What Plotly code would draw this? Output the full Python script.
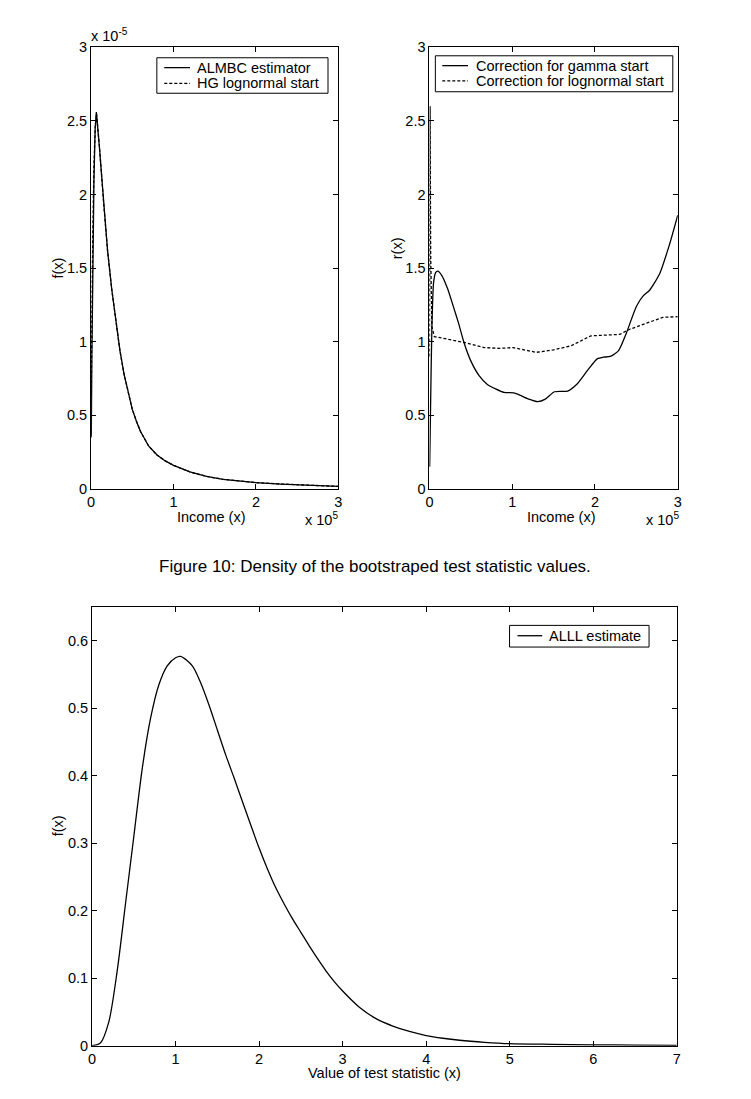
import plotly.graph_objects as go

# ---------------- data ----------------
# Top-left: income in units of 1e5, density in units of 1e-5
inc_almbc = [0.0, 0.003, 0.01, 0.02, 0.035, 0.05, 0.064, 0.1, 0.15, 0.2, 0.25, 0.3, 0.35, 0.4,
             0.45, 0.5, 0.55, 0.6, 0.7, 0.8, 0.9, 1.0, 1.2, 1.4, 1.6, 1.8, 2.0, 2.3, 2.6, 3.0]
f_almbc = [0.35, 0.37, 0.9, 1.5, 2.1, 2.45, 2.56, 2.33, 1.95, 1.62, 1.36, 1.13, 0.94, 0.78,
           0.65, 0.54, 0.46, 0.39, 0.29, 0.23, 0.19, 0.16, 0.115, 0.085, 0.065, 0.052, 0.043, 0.033, 0.025, 0.017]

inc_hg = [0.002, 0.01, 0.02, 0.035, 0.05, 0.066, 0.1, 0.15, 0.2, 0.25, 0.3, 0.35, 0.4,
          0.45, 0.5, 0.55, 0.6, 0.7, 0.8, 0.9, 1.0, 1.2, 1.4, 1.6, 1.8, 2.0, 2.3, 2.6, 3.0]
f_hg = [0.65, 1.2, 1.7, 2.2, 2.45, 2.55, 2.34, 1.96, 1.62, 1.36, 1.13, 0.94, 0.78,
        0.65, 0.54, 0.46, 0.39, 0.29, 0.23, 0.19, 0.16, 0.115, 0.085, 0.065, 0.052, 0.043, 0.033, 0.025, 0.017]

# Top-right: correction factors r(x)
inc_gamma = [0.003, 0.015, 0.03, 0.05, 0.075, 0.1, 0.15, 0.22, 0.3, 0.35, 0.42, 0.5, 0.6, 0.7,
             0.8, 0.9, 1.02, 1.1, 1.2, 1.31, 1.4, 1.51, 1.67, 1.79, 1.91, 2.03, 2.1, 2.185, 2.285,
             2.38, 2.5, 2.58, 2.66, 2.78, 2.9, 3.0]
r_gamma = [0.15, 0.6, 1.1, 1.4, 1.47, 1.48, 1.45, 1.36, 1.22, 1.13, 0.99, 0.87, 0.77, 0.71,
           0.68, 0.656, 0.652, 0.635, 0.61, 0.593, 0.61, 0.66, 0.665, 0.716, 0.805, 0.885, 0.895, 0.90, 0.94,
           1.06, 1.24, 1.31, 1.35, 1.46, 1.66, 1.86]

inc_logn = [0.0, 0.004, 0.008, 0.015, 0.03, 0.06, 0.2, 0.42, 0.66, 0.85, 1.01, 1.15, 1.29, 1.5,
            1.71, 1.95, 2.11, 2.3, 2.42, 2.62, 2.82, 3.0]
r_logn = [0.9, 2.0, 2.6, 1.6, 1.1, 1.035, 1.02, 0.995, 0.96, 0.955, 0.96, 0.945, 0.928, 0.945,
          0.972, 1.04, 1.045, 1.05, 1.085, 1.128, 1.166, 1.17]

# Bottom: ALLL estimate of the bootstrapped test statistic density
x_stat = [0.0, 0.1, 0.2, 0.3, 0.4, 0.5, 0.6, 0.7, 0.8, 0.9, 1.0, 1.06, 1.2, 1.3, 1.4, 1.5, 1.6,
          1.7, 1.8, 1.9, 2.0, 2.1, 2.2, 2.3, 2.4, 2.5, 2.6, 2.7, 2.8, 2.9, 3.0, 3.2, 3.4, 3.6, 3.8,
          4.0, 4.2, 4.4, 4.7, 5.0, 5.5, 6.0, 6.5, 7.0]
f_stat = [0.0, 0.004, 0.035, 0.11, 0.21, 0.31, 0.41, 0.485, 0.535, 0.563, 0.575, 0.577, 0.563, 0.538,
          0.505, 0.468, 0.431, 0.397, 0.362, 0.327, 0.293, 0.262, 0.234, 0.210, 0.188, 0.168, 0.148,
          0.129, 0.111, 0.095, 0.081, 0.057, 0.040, 0.029, 0.021, 0.015, 0.011, 0.008, 0.005, 0.003,
          0.002, 0.0013, 0.0008, 0.0005]

top_ticks = [0, 0.5, 1, 1.5, 2, 2.5, 3]
inc_ticks = [0, 1, 2, 3]
stat_xticks = [0, 1, 2, 3, 4, 5, 6, 7]
stat_yticks = [0, 0.1, 0.2, 0.3, 0.4, 0.5, 0.6]

caption = "Figure 10: Density of the bootstraped test statistic values."

# ---------------- figure ----------------
W, H = 751, 1099
FONT = "Liberation Sans, Arial, sans-serif"
FS = 14.5
LW = 1.3
DASH = "3px,2px"

def px_x(p):
    return p / W

def px_y(p):
    return 1 - p / H

fig = go.Figure()

fig.add_trace(go.Scatter(x=inc_almbc, y=f_almbc, mode="lines", name="ALMBC estimator",
                         line=dict(color="black", width=LW), xaxis="x", yaxis="y"))
fig.add_trace(go.Scatter(x=inc_hg, y=f_hg, mode="lines", name="HG lognormal start",
                         line=dict(color="black", width=LW, dash=DASH), xaxis="x", yaxis="y"))
fig.add_trace(go.Scatter(x=inc_gamma, y=r_gamma, mode="lines", name="Correction for gamma start",
                         line=dict(color="black", width=LW, shape="spline", smoothing=0.6),
                         xaxis="x2", yaxis="y2"))
fig.add_trace(go.Scatter(x=inc_logn, y=r_logn, mode="lines", name="Correction for lognormal start",
                         line=dict(color="black", width=LW, dash=DASH),
                         xaxis="x2", yaxis="y2"))
fig.add_trace(go.Scatter(x=x_stat, y=f_stat, mode="lines", name="ALLL estimate",
                         line=dict(color="black", width=LW, shape="spline", smoothing=0.8),
                         xaxis="x3", yaxis="y3"))

axis_common = dict(showline=True, linecolor="black", linewidth=1, mirror="ticks",
                   ticks="inside", ticklen=5, tickwidth=1, tickcolor="black",
                   showgrid=False, zeroline=False,
                   tickfont=dict(family=FONT, size=FS, color="black"))

top_y_dom = [px_y(488), px_y(40)]
bot_y_dom = [px_y(1053), px_y(608)]

fig.update_layout(
    width=W, height=H, autosize=False,
    margin=dict(l=0, r=0, t=0, b=0),
    paper_bgcolor="white", plot_bgcolor="white",
    font=dict(family=FONT, size=FS, color="black"),
    showlegend=False,
    xaxis=dict(domain=[px_x(88), px_x(338)], range=[0, 3], tickvals=inc_ticks, anchor="y", **axis_common),
    yaxis=dict(domain=top_y_dom, range=[0, 3], tickvals=top_ticks, anchor="x", **axis_common),
    xaxis2=dict(domain=[px_x(430), px_x(681)], range=[0, 3], tickvals=inc_ticks, anchor="y2", **axis_common),
    yaxis2=dict(domain=top_y_dom, range=[0, 3], tickvals=top_ticks, anchor="x2", **axis_common),
    xaxis3=dict(domain=[px_x(89), px_x(680)], range=[0, 7], tickvals=stat_xticks, anchor="y3", **axis_common),
    yaxis3=dict(domain=bot_y_dom, range=[0, 0.65], tickvals=stat_yticks, anchor="x3", **axis_common),
)

def txt(text, x, y, xanchor="center", yanchor="middle", angle=0, size=FS):
    return dict(text=text, x=px_x(x), y=px_y(y), xref="paper", yref="paper",
                xanchor=xanchor, yanchor=yanchor, textangle=angle, showarrow=False,
                font=dict(family=FONT, size=size, color="black"))

annotations = [
    # axis titles
    txt("f(x)", 55, 264, angle=-90),
    txt("r(x)", 398, 244, angle=-90),
    txt("Income (x)", 210, 517),
    txt("Income (x)", 564, 517),
    txt("f(x)", 55, 830, angle=-90),
    txt("Value of test statistic (x)", 385, 1081),
    # exponent labels
    txt("x 10<sup>-5</sup>", 86, 39, xanchor="left", yanchor="bottom"),
    txt("x 10<sup>5</sup>", 340, 530, xanchor="right", yanchor="bottom"),
    txt("x 10<sup>5</sup>", 684, 530, xanchor="right", yanchor="bottom"),
    # caption
    txt(caption, 375, 567, size=17),
]

shapes = []

# manual legends
legends = [
    dict(box=(154.5, 50.5, 327.5, 86.5), lx=(162, 188), tx=193,
         entries=[("ALMBC estimator", "solid", 60.5), ("HG lognormal start", DASH, 76.5)]),
    dict(box=(436, 48.5, 676, 85), lx=(443, 469), tx=475,
         entries=[("Correction for gamma start", "solid", 58.5),
                  ("Correction for lognormal start", DASH, 74)]),
    dict(box=(511, 626.5, 652, 648.5), lx=(519, 544), tx=549,
         entries=[("ALLL estimate", "solid", 637)]),
]
for lg in legends:
    x0, y0, x1, y1 = lg["box"]
    shapes.append(dict(type="rect", xref="paper", yref="paper",
                       x0=px_x(x0), x1=px_x(x1), y0=px_y(y1), y1=px_y(y0),
                       line=dict(color="black", width=1), fillcolor="white", layer="above"))
    for label, dash, yy in lg["entries"]:
        shapes.append(dict(type="line", xref="paper", yref="paper",
                           x0=px_x(lg["lx"][0]), x1=px_x(lg["lx"][1]), y0=px_y(yy), y1=px_y(yy),
                           line=dict(color="black", width=LW, dash=dash), layer="above"))
        annotations.append(txt(label, lg["tx"], yy, xanchor="left"))

fig.update_layout(annotations=annotations, shapes=shapes)

fig.write_html("out.html")
